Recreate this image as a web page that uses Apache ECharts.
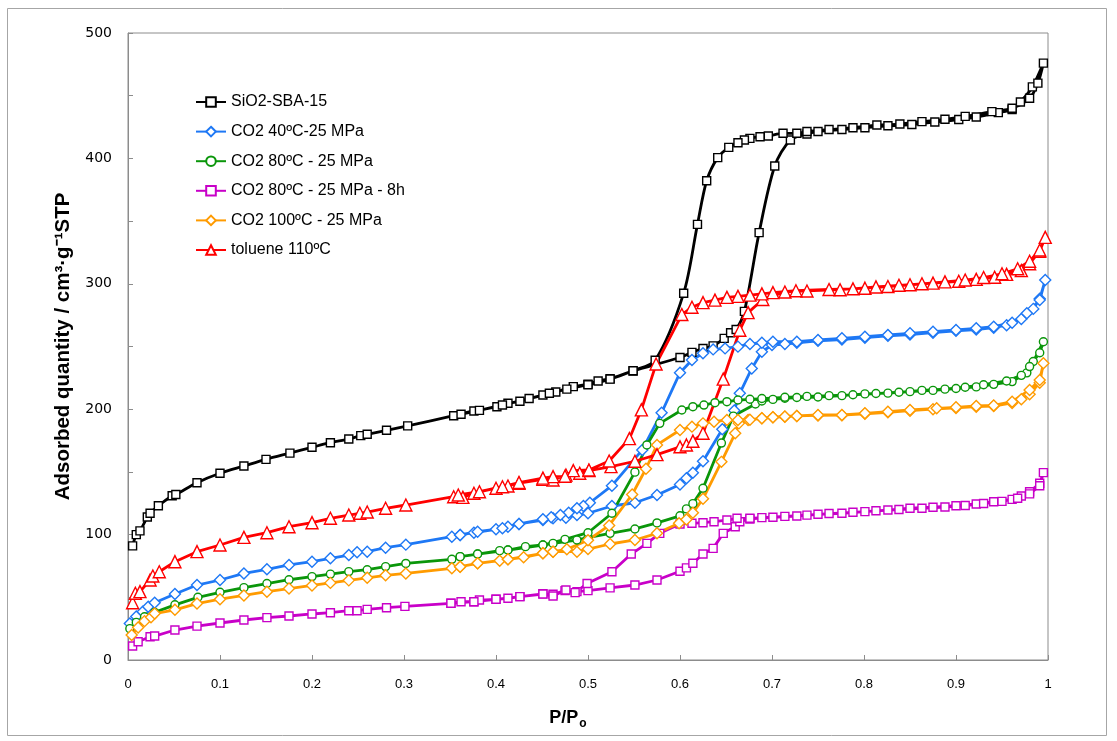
<!DOCTYPE html>
<html>
<head>
<meta charset="utf-8">
<script src="https://cdn.jsdelivr.net/npm/echarts@6/dist/echarts.min.js"></script>
<style>html,body{margin:0;padding:0;background:#fff}#c{width:1117px;height:741px}</style>
</head>
<body>
<div id="c"></div>
<script>
// Series names
const seriesNames = ['SiO2-SBA-15','CO2 40ºC-25 MPa','CO2 80ºC - 25 MPa','CO2 80ºC - 25 MPa - 8h','CO2 100ºC - 25 MPa','toluene 110ºC'];

// SiO2-SBA-15 : adsorption then desorption [P/Po, quantity]
const sbaData = [
[0.005,91],[0.009,100],[0.013,103],[0.021,114],[0.024,117],[0.033,123],[0.048,131],[0.052,132],[0.075,141.4],[0.1,148.9],[0.126,154.7],[0.15,160],[0.176,165],[0.2,169.6],[0.22,173.3],[0.24,176.2],[0.253,178.9],[0.26,180],[0.281,183.2],[0.304,186.7],[0.354,194.8],[0.376,198.6],[0.401,202],[0.413,204.7],[0.426,206.3],[0.451,211.3],[0.465,213.7],[0.484,218],[0.5,220],[0.511,222.5],[0.524,224.3],[0.549,230.5],[0.6,241.2],[0.613,245.3],[0.625,248.4],[0.636,250.5],[0.648,256.5],[0.655,261],[0.661,263.5],[0.67,278],[0.686,340.8],[0.703,393.9],[0.72,414.7],[0.738,419.5],[0.75,421.5],[0.776,423],[0.801,424.5],[0.826,426],[0.852,427],[0.877,429],[0.903,431],[0.922,433],[0.946,436.5],[0.961,439],[0.97,445],[0.983,457],[0.995,476],
[0.989,460],[0.98,448],[0.961,440],[0.939,437.3],[0.91,433.5],[0.888,431.2],[0.863,429.3],[0.839,427.4],[0.814,426.6],[0.788,424.5],[0.762,423],[0.738,421.4],[0.727,420],[0.712,420],[0.696,417.9],[0.687,417.3],[0.676,416],[0.67,414.7],[0.663,412.5],[0.653,408.8],[0.641,400.6],[0.629,382.2],[0.619,347.4],[0.604,292.5],[0.573,239],[0.549,230.7],[0.524,224],[0.5,219.5],[0.477,216],[0.458,212.7],[0.436,208.5],[0.407,203.3],[0.382,199.1],[0.362,196]
];

// CO2 40ºC-25 MPa
const co2_40Data = [
[0.002,29.2],[0.009,34.6],[0.016,38.5],[0.022,42.5],[0.029,45.7],[0.051,52.6],[0.075,59.8],[0.1,63.8],[0.126,69],[0.151,72.3],[0.175,75.8],[0.2,78.4],[0.22,81.1],[0.24,83.7],[0.249,86],[0.26,86.4],[0.28,89.6],[0.302,92],[0.352,98.3],[0.361,99.7],[0.376,101.5],[0.4,104.2],[0.413,106.3],[0.425,108.5],[0.451,111.6],[0.462,113],[0.476,113.5],[0.488,115.6],[0.5,117],[0.526,122.8],[0.551,125.4],[0.575,131.6],[0.6,140],[0.607,145],[0.614,149.3],[0.625,158.5],[0.646,184],[0.659,199],[0.665,212.7],[0.678,232.5],[0.689,245.8],[0.7,251.2],[0.714,252],[0.727,253],[0.75,254.5],[0.776,255.5],[0.801,257],[0.826,258.5],[0.85,259.5],[0.875,261],[0.9,262.5],[0.922,263.5],[0.941,265],[0.955,267],[0.971,272],[0.984,280],[0.991,288],[0.997,303],
[0.991,287],[0.977,276.5],[0.961,269],[0.941,265.8],[0.922,264.5],[0.9,263.2],[0.875,261.8],[0.85,260.5],[0.826,259.2],[0.801,257.8],[0.776,256.5],[0.75,255.2],[0.727,253.8],[0.701,253.8],[0.689,253],[0.676,252],[0.663,249.9],[0.649,248.5],[0.636,247.7],[0.625,244.6],[0.613,239.2],[0.6,229.1],[0.58,197.2],[0.559,167.5],[0.526,139],[0.502,125.4],[0.495,122.8],[0.488,121],[0.479,117.5],[0.47,115.6],[0.46,113.8],[0.451,112.2],[0.425,108.5],[0.407,105],[0.38,102.3],[0.361,99.7]
];

// CO2 80ºC - 25 MPa
const co2_80Data = [
[0.002,25],[0.009,30],[0.018,34.5],[0.029,38],[0.051,44],[0.076,50],[0.1,54],[0.126,57.7],[0.151,61],[0.175,64],[0.2,66.5],[0.22,68.5],[0.24,70.5],[0.26,72],[0.28,74.5],[0.302,77],[0.352,80.3],[0.361,82.4],[0.38,84.5],[0.404,87.2],[0.413,87.7],[0.432,90.4],[0.451,91.7],[0.462,93],[0.488,95.7],[0.5,97.5],[0.524,101],[0.551,104.5],[0.575,109.3],[0.6,115],[0.607,120.5],[0.614,124.7],[0.625,137],[0.645,173],[0.658,194.5],[0.682,204.2],[0.689,206.5],[0.701,207.8],[0.714,208.7],[0.727,209.3],[0.75,209.7],[0.776,210.8],[0.801,212.2],[0.826,212.8],[0.85,214],[0.875,215],[0.9,216.5],[0.922,217.8],[0.941,219.8],[0.961,222],[0.977,229],[0.984,238],[0.995,253.8],
[0.991,245],[0.98,234],[0.971,227],[0.955,222.5],[0.93,219.5],[0.91,217.5],[0.888,216],[0.863,215],[0.838,213.5],[0.813,212.5],[0.788,211.5],[0.762,210.8],[0.738,210.2],[0.714,209.5],[0.689,208.5],[0.676,207.9],[0.663,207.3],[0.651,206],[0.638,205.2],[0.626,203.3],[0.614,202],[0.602,199.4],[0.578,188.7],[0.564,171.5],[0.551,149.8],[0.526,117],[0.5,101.5],[0.475,96.2],[0.451,91.7],[0.413,87.7],[0.38,84.5],[0.361,82.4]
];

// CO2 80ºC - 25 MPa - 8h
const co2_80_8hData = [
[0.005,11.2],[0.011,14.6],[0.024,18.6],[0.029,19.1],[0.051,23.9],[0.075,27],[0.1,29.5],[0.126,31.9],[0.151,33.8],[0.175,35.1],[0.2,36.7],[0.22,37.7],[0.24,39.3],[0.249,39.3],[0.26,40.4],[0.281,41.7],[0.301,42.8],[0.351,45.2],[0.362,46.5],[0.376,46.5],[0.382,47.8],[0.4,48.4],[0.413,49.2],[0.426,50.5],[0.451,52.8],[0.462,52.4],[0.475,55.3],[0.488,54.5],[0.5,55.3],[0.524,57.5],[0.551,59.8],[0.575,63.8],[0.6,70.8],[0.607,73.5],[0.614,77.1],[0.625,84.5],[0.636,89],[0.647,101],[0.66,106.3],[0.665,110.3],[0.676,112.5],[0.701,113.8],[0.727,114.8],[0.75,116.2],[0.776,117],[0.801,118.3],[0.826,119.6],[0.85,121],[0.875,121.8],[0.9,123],[0.922,124.4],[0.941,126.2],[0.961,128.1],[0.971,130.8],[0.98,134.2],[0.991,140.9],[0.995,149.4],
[0.991,139],[0.98,132.5],[0.967,129],[0.95,126.5],[0.93,124.8],[0.91,123.2],[0.888,122],[0.863,121],[0.838,120],[0.813,119],[0.788,117.8],[0.762,116.8],[0.738,115.5],[0.714,114.5],[0.689,113.5],[0.676,113],[0.662,113],[0.651,111.6],[0.637,110.3],[0.625,109.5],[0.613,109],[0.6,108.5],[0.578,101],[0.564,93],[0.547,84.5],[0.526,70.4],[0.499,61],[0.486,53.7],[0.476,55.8],[0.462,51],[0.451,52.6],[0.426,50.5],[0.4,48.4],[0.376,46.5],[0.351,45.2]
];

// CO2 100ºC - 25 MPa
const co2_100Data = [
[0.004,20],[0.011,26],[0.018,31],[0.025,34],[0.029,37],[0.051,40],[0.075,45],[0.1,48.5],[0.126,51.5],[0.151,54.5],[0.175,57],[0.2,59.5],[0.22,61.5],[0.24,63.5],[0.26,65.5],[0.28,67.5],[0.302,69],[0.352,73.1],[0.361,74.4],[0.38,77.1],[0.404,79.2],[0.413,80.3],[0.43,81.9],[0.451,85.1],[0.462,86.4],[0.488,86.4],[0.5,88.5],[0.524,92.5],[0.551,95.7],[0.575,101],[0.599,109],[0.607,112],[0.614,117.5],[0.625,128.5],[0.645,158],[0.66,180.8],[0.664,188.7],[0.674,191.4],[0.689,192.7],[0.701,193.5],[0.714,194],[0.727,194.6],[0.75,195],[0.776,195.2],[0.801,196.3],[0.826,197.5],[0.85,198.8],[0.875,200],[0.9,201],[0.922,202],[0.941,202.5],[0.961,205],[0.971,208],[0.98,212],[0.991,221],[0.995,236.6],
[0.991,223.3],[0.98,215.3],[0.961,206],[0.941,203],[0.922,202.6],[0.9,201.5],[0.879,200.7],[0.85,199.4],[0.826,198],[0.801,196.7],[0.776,195.4],[0.75,195.4],[0.727,194.6],[0.714,194.2],[0.701,193.6],[0.689,192.7],[0.676,191.6],[0.663,191.4],[0.651,191.4],[0.637,190],[0.625,188.7],[0.613,186.1],[0.6,183.4],[0.575,171.5],[0.563,152.5],[0.548,132],[0.523,107.3],[0.5,95.5],[0.477,88.3],[0.462,86.4],[0.451,85.1],[0.413,80.3],[0.38,77.1],[0.361,74.4]
];

// toluene 110ºC
const tolueneData = [
[0.005,45.7],[0.008,53.2],[0.013,54.5],[0.024,63.8],[0.027,67],[0.034,70.4],[0.051,78.4],[0.075,86.4],[0.1,91.7],[0.126,97.8],[0.151,101.5],[0.175,106.3],[0.2,109.5],[0.22,113],[0.24,115.6],[0.252,117],[0.26,118],[0.28,121],[0.302,123.6],[0.354,130.2],[0.364,129.7],[0.376,133],[0.4,137],[0.413,138.8],[0.425,141],[0.451,144],[0.462,143.5],[0.476,147.5],[0.491,148.9],[0.501,151],[0.525,154.2],[0.551,158.5],[0.575,163.8],[0.6,170],[0.607,171.5],[0.614,174.5],[0.625,180.8],[0.647,224],[0.665,263],[0.674,277],[0.69,287.5],[0.714,293.5],[0.738,294.3],[0.774,295.3],[0.801,296.5],[0.826,297.8],[0.85,299.2],[0.875,300.5],[0.903,302],[0.922,303.5],[0.942,305.2],[0.955,307.5],[0.971,310.5],[0.98,316],[0.991,326],[0.997,337],
[0.991,327],[0.98,318],[0.967,312],[0.95,308],[0.93,305],[0.91,303],[0.888,301.5],[0.863,300],[0.838,298.8],[0.813,297.5],[0.788,296],[0.762,295.5],[0.726,294.5],[0.701,293],[0.689,292],[0.676,291],[0.663,290],[0.651,289.2],[0.638,287],[0.625,285],[0.613,281.3],[0.602,275.5],[0.574,236],[0.558,199.5],[0.545,176.5],[0.523,158.7],[0.501,151.5],[0.484,151],[0.475,146.5],[0.462,146.2],[0.451,145],[0.425,141.5],[0.407,138.2],[0.382,134.2],[0.359,131.6]
];

const allData = [sbaData, co2_40Data, co2_80Data, co2_80_8hData, co2_100Data, tolueneData];
const colors = ['#000000','#1E78F5','#0A960A','#C800C8','#FF9B00','#FF0000'];
const symbols = ['rect','diamond','circle','rect','diamond','triangle'];
const symbolSizes = [8,11,8,8,11,12];
const smooths = [0.3,false,false,false,false,false];

const chart = echarts.init(document.getElementById('c'), null, {renderer:'canvas'});
const series = allData.map((d,i)=>({
  name: seriesNames[i],
  type: 'line',
  data: d,
  smooth: smooths[i],
  symbol: symbols[i],
  symbolSize: symbolSizes[i],
  showAllSymbol: true,
  lineStyle: {color: colors[i], width: 2.8},
  itemStyle: {color: '#ffffff', borderColor: colors[i], borderWidth: 1.4},
  emphasis: {disabled: true},
  animation: false
}));

chart.setOption({
  animation: false,
  backgroundColor: '#ffffff',
  grid: {left: 128, right: 69, top: 33, bottom: 81, show: true, borderColor: '#8c8c8c', borderWidth: 1, backgroundColor: 'transparent'},
  legend: {
    orient: 'vertical', left: 190, top: 89, itemWidth: 30, itemHeight: 12, itemGap: 13.6,
    textStyle: {fontFamily: 'Liberation Sans', fontSize: 16, color: '#000'},
    data: seriesNames
  },
  xAxis: {
    type: 'value', min: 0, max: 1, interval: 0.1,
    axisLine: {show: true, lineStyle: {color: '#8c8c8c', width: 1}},
    axisTick: {show: true, inside: true, length: 5, lineStyle: {color: '#8c8c8c'}},
    splitLine: {show: false},
    axisLabel: {fontFamily: 'Liberation Sans', fontSize: 13, color: '#000', margin: 18},
    name: '{a|P/P}{b|o}',
    nameLocation: 'middle', nameGap: 46,
    nameTextStyle: {
      padding: [0, 40, 0, 0],
      rich: {
        a: {fontFamily: 'Liberation Sans', fontWeight: 'bold', fontSize: 18, lineHeight: 24, color: '#000'},
        b: {fontFamily: 'Liberation Sans', fontWeight: 'bold', fontSize: 12, color: '#000', verticalAlign: 'bottom', padding: [12, 0, 0, 1]}
      }
    }
  },
  yAxis: {
    type: 'value', min: 0, max: 500, interval: 100,
    axisLine: {show: true, lineStyle: {color: '#8c8c8c', width: 1}},
    axisTick: {show: true, inside: true, length: 5, lineStyle: {color: '#8c8c8c'}},
    minorTick: {show: true, splitNumber: 2, length: 5, lineStyle: {color: '#8c8c8c'}},
    splitLine: {show: false},
    axisLabel: {fontFamily: 'DejaVu Sans', fontSize: 14, color: '#000', margin: 16},
    name: 'Adsorbed quantity / cm³·g⁻¹STP',
    nameLocation: 'middle', nameGap: 54,
    nameTextStyle: {fontFamily: 'Liberation Sans', fontWeight: 'bold', fontSize: 20.5, color: '#000'}
  },
  graphic: [{
    type: 'rect', silent: true, z: -1,
    shape: {x: 7.5, y: 8.5, width: 1099, height: 727},
    style: {fill: 'none', stroke: '#a6a6a6', lineWidth: 1}
  }],
  series: series
});
</script>
</body>
</html>
